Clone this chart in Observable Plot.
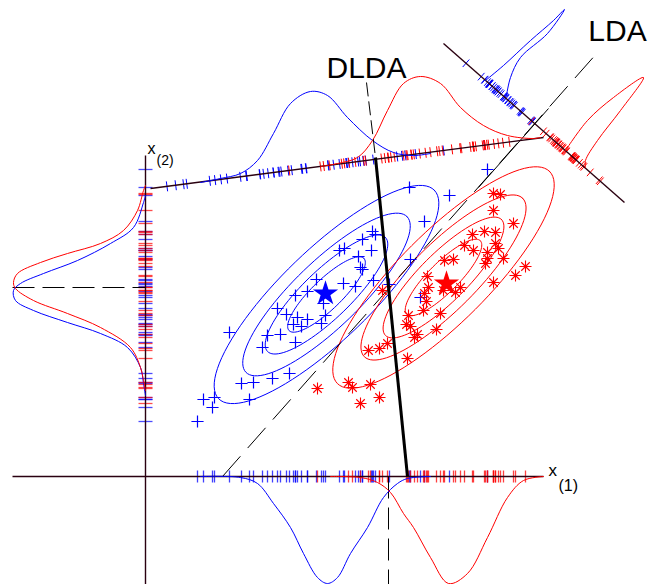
<!DOCTYPE html>
<html><head><meta charset="utf-8">
<script src="https://cdn.jsdelivr.net/npm/d3@7"></script>
<script src="https://cdn.jsdelivr.net/npm/@observablehq/plot@0.6"></script>
<style>body{margin:0;background:#fff}svg{display:block}</style>
</head><body><div id="chart"></div>
<script>
// ---- data (figure units: x right, y down) ----
const blueX = [409,449,487,424,372,375,362,371,339,344,358,410,360,362,373,316,343,355,389,420,295,307,323,277,286,297,307,325,321,293,301,229,267,280,295,262,289,272,241,253,249,203,214,212,197];
const blueY = [187,195,169,221,231,234,239,250,250,248,256,259,267,269,280,279,283,286,284,297,295,291,303,308,314,317,319,315,323,324,326,332,335,334,342,347,373,378,383,382,399,399,397,407,421];
const redX = [493,500,493,513,472,484,495,464,473,487,495,498,503,525,515,493,444,453,485,487,427,428,424,426,460,455,443,423,440,408,406,410,436,417,414,387,379,368,407,348,352,370,360,379,382,317];
const redY = [193,194,210,223,234,231,232,245,250,252,243,248,258,266,275,282,260,259,263,258,276,287,293,301,287,292,290,310,313,315,324,326,329,334,337,343,348,350,358,382,387,384,403,397,290,388];
const blueMean = [325, 293];
const redMean = [446, 283];
const blueCenter = [326, 294];
const redCenter = [443, 277];
const contourAngle = 44;
const contourMajor = [52, 82, 112, 150];
const contourMinor = [15, 24, 33, 45];

// axes / projection lines
const x1Axis = [[12, 476], [543, 476]];
const x2Axis = [[145, 155], [145, 584]];
const dldaAxis = [[150, 188], [543, 137]];
const ldaAxis = [[443, 43], [624, 202]];
// decision boundaries
const dldaBoundary = [[375, 157], [407, 476]];
const dldaBoundaryExt = [[366, 82], [375, 157]];
const ldaBoundary = [[222, 476], [597, 52]];
const ldaBoundarySolid = [[478, 187], [548, 108]];
const x1Cut = [[388, 476], [388, 584]];
const x2Cut = [[12, 287], [145, 287]];

// density curves (as read)
const x1BlueDensity = [[200,476],[240,477],[257,483],[273,503],[290,527],[303,553],[317,577],[327,583],[337,577],[350,553],[367,527],[383,497],[397,483],[407,478],[430,476]];
const x1RedDensity = [[330,476],[360,477],[377,482],[390,492],[403,513],[413,527],[430,557],[448,583],[467,573],[487,537],[507,497],[523,480],[543,476]];
const x2RedDensity = [[145,185],[143,190],[137,210],[123,230],[100,243],[67,253],[40,262],[17,273],[13,282],[15,288],[33,300],[67,313],[100,327],[130,347],[140,367],[143,380],[145,390]];
const x2BlueDensity = [[145,195],[143,202],[133,227],[110,243],[77,260],[43,273],[20,283],[13,290],[15,300],[33,310],[67,322],[100,333],[127,347],[140,367],[143,383],[145,395]];
const dldaBlueDensity = [[200,182],[220,178],[240,173],[257,160],[273,133],[290,103],[310,91],[327,95],[347,117],[372,140],[393,152],[413,155],[430,153]];
const dldaRedDensity = [[320,166],[337,163],[357,157],[372,140],[387,110],[403,83],[420,76],[440,83],[460,107],[483,125],[507,135],[533,138],[540,137]];
const ldaBlueDensity = [[485,80],[503,65],[530,40],[553,20],[564,9],[547,33],[520,57],[510,77],[506,95]];
const ldaRedDensity = [[565,150],[587,120],[613,97],[643,77],[620,110],[597,140],[585,160],[585,167]];

// ---- build tables ----
const blue = blueX.map((x, i) => ({x, y: blueY[i]}));
const red = redX.map((x, i) => ({x, y: redY[i]}));
const pts = arr => arr.map(([x, y]) => ({x, y}));

function ellipse(c, a, b, deg, level) {
  const phi = deg * Math.PI / 180, out = [];
  for (let i = 0; i <= 96; i++) {
    const t = i / 96 * 2 * Math.PI, ex = a * Math.cos(t), ey = b * Math.sin(t);
    out.push({level, x: c[0] + ex * Math.cos(phi) - ey * Math.sin(phi), y: c[1] - (ex * Math.sin(phi) + ey * Math.cos(phi))});
  }
  return out;
}
const blueContours = contourMajor.flatMap((a, i) => ellipse(blueCenter, a, contourMinor[i], contourAngle, i));
const redContours = contourMajor.flatMap((a, i) => ellipse(redCenter, a, contourMinor[i], contourAngle + 1, i));

function projectTicks(data, line, half) {
  const [A, B] = line, dx = B[0] - A[0], dy = B[1] - A[1], L = Math.hypot(dx, dy), ux = dx / L, uy = dy / L, nx = -uy, ny = ux;
  return data.map(d => {
    const t = (d.x - A[0]) * ux + (d.y - A[1]) * uy, qx = A[0] + t * ux, qy = A[1] + t * uy;
    return {x1: qx - half * nx, y1: qy - half * ny, x2: qx + half * nx, y2: qy + half * ny};
  });
}
const seg = s => [{x1: s[0][0], y1: s[0][1], x2: s[1][0], y2: s[1][1]}];

// eight-armed asterisk marker
const asterisk8 = {draw(ctx, size) {
  const r = Math.sqrt(size / Math.PI), d = r * Math.SQRT1_2;
  ctx.moveTo(-r, 0); ctx.lineTo(r, 0); ctx.moveTo(0, -r); ctx.lineTo(0, r);
  ctx.moveTo(-d, -d); ctx.lineTo(d, d); ctx.moveTo(-d, d); ctx.lineTo(d, -d);
}};

const BLUE = "#0000ff", RED = "#ff0000", FONT = "Liberation Sans, Arial, sans-serif";
const L = {x1: "x1", y1: "y1", x2: "x2", y2: "y2"};

const plot = Plot.plot({
  width: 648, height: 584, margin: 0,
  x: {domain: [0, 648], range: [0, 648], axis: null},
  y: {domain: [0, 584], range: [0, 584], axis: null},
  style: {background: "#fff", fontFamily: FONT},
  marks: [
    Plot.line(blueContours, {x: "x", y: "y", z: "level", stroke: BLUE, strokeWidth: 1}),
    Plot.line(redContours, {x: "x", y: "y", z: "level", stroke: RED, strokeWidth: 1}),
    Plot.link(seg(ldaBoundary), {...L, stroke: "#000", strokeWidth: 1, strokeDasharray: "27,11"}),
    Plot.link(seg(ldaBoundarySolid), {...L, stroke: "#000", strokeWidth: 1}),
    Plot.dot(blue, {x: "x", y: "y", symbol: "plus", r: 4, stroke: BLUE, strokeWidth: 1.2}),
    Plot.dot(red, {x: "x", y: "y", symbol: asterisk8, r: 6, fill: "none", stroke: RED, strokeWidth: 1.1}),
    Plot.dot([blueMean], {x: d => d[0], y: d => d[1], symbol: "star", r: 6.5, fill: BLUE, stroke: BLUE}),
    Plot.dot([redMean], {x: d => d[0], y: d => d[1], symbol: "star", r: 6.5, fill: RED, stroke: RED}),
    Plot.link(blue, {x1: "x", x2: "x", y1: () => 470, y2: () => 482, stroke: BLUE, strokeOpacity: 0.75, strokeWidth: 1.3}),
    Plot.link(red, {x1: "x", x2: "x", y1: () => 470, y2: () => 482, stroke: RED, strokeOpacity: 0.75, strokeWidth: 1.3}),
    Plot.link(blue, {y1: "y", y2: "y", x1: () => 138, x2: () => 152, stroke: BLUE, strokeOpacity: 0.7, strokeWidth: 1.3}),
    Plot.link(red, {y1: "y", y2: "y", x1: () => 138, x2: () => 152, stroke: RED, strokeOpacity: 0.7, strokeWidth: 1.3}),
    Plot.link(projectTicks(blue, dldaAxis, 5), {...L, stroke: BLUE, strokeWidth: 1}),
    Plot.link(projectTicks(red, dldaAxis, 5), {...L, stroke: RED, strokeWidth: 1}),
    Plot.link(projectTicks(blue, ldaAxis, 5), {...L, stroke: BLUE, strokeWidth: 1}),
    Plot.link(projectTicks(red, ldaAxis, 5), {...L, stroke: RED, strokeWidth: 1}),
    Plot.link([x1Axis, x2Axis, dldaAxis, ldaAxis].map(s => seg(s)[0]), {...L, stroke: "#2a0010", strokeWidth: 1.4}),
    Plot.link(seg(x1Cut), {...L, stroke: "#000", strokeWidth: 1, strokeDasharray: "22,9"}),
    Plot.link(seg(x2Cut), {...L, stroke: "#000", strokeWidth: 1, strokeDasharray: "22,8"}),
    Plot.line(pts(x1BlueDensity), {x: "x", y: "y", stroke: BLUE, strokeWidth: 1, curve: "catmull-rom"}),
    Plot.line(pts(x1RedDensity), {x: "x", y: "y", stroke: RED, strokeWidth: 1, curve: "catmull-rom"}),
    Plot.line(pts(x2BlueDensity), {x: "x", y: "y", stroke: BLUE, strokeWidth: 1, curve: "catmull-rom"}),
    Plot.line(pts(x2RedDensity), {x: "x", y: "y", stroke: RED, strokeWidth: 1, curve: "catmull-rom"}),
    Plot.line(pts(dldaBlueDensity), {x: "x", y: "y", stroke: BLUE, strokeWidth: 1, curve: "catmull-rom"}),
    Plot.line(pts(dldaRedDensity), {x: "x", y: "y", stroke: RED, strokeWidth: 1, curve: "catmull-rom"}),
    Plot.line(pts(ldaBlueDensity), {x: "x", y: "y", stroke: BLUE, strokeWidth: 1, curve: "catmull-rom"}),
    Plot.line(pts(ldaRedDensity), {x: "x", y: "y", stroke: RED, strokeWidth: 1, curve: "catmull-rom"}),
    Plot.link(seg(dldaBoundaryExt), {...L, stroke: "#000", strokeWidth: 1, strokeDasharray: "14,5"}),
    Plot.link(seg(dldaBoundary), {...L, stroke: "#000", strokeWidth: 3}),
    Plot.text(["DLDA"], {x: () => 366, y: () => 77, text: d => d, fontSize: 30, lineAnchor: "bottom", textAnchor: "middle", fill: "#000"}),
    Plot.text(["LDA"], {x: () => 617, y: () => 40, text: d => d, fontSize: 30, lineAnchor: "bottom", textAnchor: "middle", fill: "#000"}),
    Plot.text(["x"], {x: () => 147, y: () => 153, text: d => d, fontSize: 16, lineAnchor: "bottom", textAnchor: "start", fill: "#000"}),
    Plot.text(["(2)"], {x: () => 156, y: () => 164, text: d => d, fontSize: 14, lineAnchor: "bottom", textAnchor: "start", fill: "#000"}),
    Plot.text(["x"], {x: () => 548, y: () => 475, text: d => d, fontSize: 17, lineAnchor: "bottom", textAnchor: "start", fill: "#000"}),
    Plot.text(["(1)"], {x: () => 558, y: () => 490, text: d => d, fontSize: 16, lineAnchor: "bottom", textAnchor: "start", fill: "#000"})
  ]
});
document.getElementById("chart").appendChild(plot);
</script>
</body></html>
